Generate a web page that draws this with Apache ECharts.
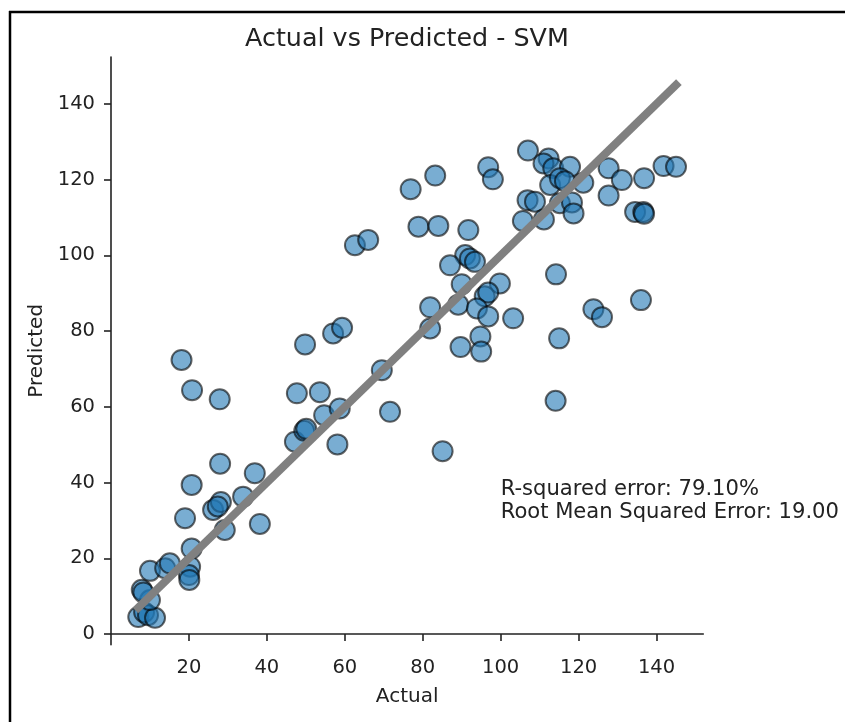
<!DOCTYPE html>
<html>
<head>
<meta charset="utf-8">
<script src="https://cdn.jsdelivr.net/npm/echarts@6/dist/echarts.min.js"></script>
<style>
html,body{margin:0;padding:0;background:#fff;}
#c{width:845px;height:722px;}
</style>
</head>
<body>
<div id="c"></div>
<script>
const titleText = 'Actual vs Predicted - SVM';
const xName = 'Actual';
const yName = 'Predicted';
const actual = [
  7.0, 8.5, 9.5, 11.3, 10.0, 7.9, 8.3, 10.0, 13.9, 15.1,
  20.3, 20.0, 20.1, 20.7, 19.0, 20.7, 29.2, 38.2, 26.2, 28.2,
  27.4, 33.9, 36.9, 28.0, 18.1, 20.8, 27.9, 47.2, 49.6, 50.1,
  54.7, 58.7, 58.1, 47.7, 53.6, 49.8, 57.0, 59.3, 69.5, 71.6,
  85.1, 62.6, 66.0, 76.9, 83.2, 78.9, 84.0, 91.7, 90.9, 92.1,
  93.4, 87.0, 90.0, 99.8, 95.9, 96.8, 81.9, 89.1, 93.9, 96.8,
  103.2, 81.9, 89.7, 94.8, 95.0, 114.2, 115.0, 114.1, 123.8, 126.0,
  136.0, 96.8, 98.0, 107.0, 112.3, 111.0, 113.5, 117.8, 112.7, 115.2,
  116.5, 121.2, 127.7, 131.1, 136.8, 141.8, 145.0, 127.7, 134.5, 136.6,
  136.8, 106.9, 108.8, 105.7, 111.1, 115.2, 118.3, 118.7
];
const predicted = [
  4.5, 5.8, 5.0, 4.3, 9.0, 11.7, 11.0, 16.7, 17.4, 18.7,
  17.8, 15.6, 14.3, 22.6, 30.6, 39.4, 27.5, 29.1, 32.8, 34.9,
  33.7, 36.3, 42.5, 45.0, 72.4, 64.4, 62.0, 50.8, 53.7, 54.2,
  57.8, 59.6, 50.1, 63.6, 63.9, 76.5, 79.4, 80.9, 69.7, 58.7,
  48.3, 102.7, 104.1, 117.5, 121.1, 107.6, 107.8, 106.7, 100.1, 99.2,
  98.3, 97.4, 92.4, 92.6, 89.2, 90.2, 86.3, 87.0, 86.0, 83.9,
  83.4, 80.7, 75.8, 78.6, 74.6, 95.0, 78.1, 61.6, 85.8, 83.7,
  88.2, 123.3, 120.1, 127.7, 125.6, 124.3, 123.0, 123.4, 118.6, 120.4,
  119.6, 119.2, 123.0, 119.9, 120.4, 123.6, 123.4, 115.8, 111.5, 111.5,
  111.0, 114.6, 114.2, 109.1, 109.5, 113.8, 114.0, 111.1
];
const xTicks = [20, 40, 60, 80, 100, 120, 140];
const yTicks = [0, 20, 40, 60, 80, 100, 120, 140];
const xRange = [0, 152];
const yRange = [-2.8, 152.4];
const annotationLines = ['R-squared error: 79.10%', 'Root Mean Squared Error: 19.00'];
const annotationAt = [100, 30];

const FONT = 'DejaVu Sans';
const grid = { left: 111, top: 57, right: 141.7, bottom: 77.3 };

const scatterData = actual.map((a, i) => [a, predicted[i]]);
const lo = Math.min(...actual), hi = Math.max(...actual);
const lineData = [[lo, lo], [hi, hi]];

const TITLE_SIZE = 25.4;

const chart = echarts.init(document.getElementById('c'), null, { renderer: 'canvas' });
const axisCommon = {
  type: 'value',
  splitLine: { show: false },
  axisLine: { show: true, lineStyle: { color: '#222', width: 1.6 } },
  axisTick: { show: true, inside: false, length: 7, lineStyle: { color: '#222', width: 1.6 } },
  axisLabel: { color: '#222', fontFamily: FONT, fontSize: 19.5 },
  nameLocation: 'middle',
  nameTextStyle: { color: '#222', fontFamily: FONT, fontSize: 20 }
};
chart.setOption({
  animation: false,
  backgroundColor: '#fff',
  title: {
    text: titleText,
    left: 240,
    top: 22,
    textStyle: { fontFamily: FONT, fontSize: TITLE_SIZE, fontWeight: 'normal', color: '#222' }
  },
  grid: Object.assign({ outerBoundsMode: 'none', containLabel: false }, grid),
  xAxis: Object.assign({}, axisCommon, {
    min: xRange[0], max: xRange[1],
    name: xName, nameGap: 42,
    axisTick: Object.assign({}, axisCommon.axisTick, { customValues: xTicks }),
    axisLabel: Object.assign({}, axisCommon.axisLabel, { customValues: xTicks, margin: 13 })
  }),
  yAxis: Object.assign({}, axisCommon, {
    min: yRange[0], max: yRange[1],
    name: yName, nameGap: 63,
    axisTick: Object.assign({}, axisCommon.axisTick, { customValues: yTicks }),
    axisLabel: Object.assign({}, axisCommon.axisLabel, { customValues: yTicks, margin: 16 })
  }),
  series: [
    {
      type: 'scatter',
      data: scatterData,
      symbol: 'circle',
      symbolSize: 20,
      itemStyle: { color: '#1f77b4', borderColor: '#000', borderWidth: 2, opacity: 0.6 },
      emphasis: { disabled: true },
      z: 2
    },
    {
      type: 'line',
      data: lineData,
      showSymbol: false,
      symbol: 'none',
      lineStyle: { color: '#808080', width: 8, cap: 'square' },
      emphasis: { disabled: true },
      z: 3
    }
  ]
});

const p = chart.convertToPixel({ gridIndex: 0 }, annotationAt);
chart.setOption({
  graphic: [
    {
      type: 'text',
      x: p[0], y: p[1] + 3,
      style: {
        text: annotationLines.join('\n'),
        font: '21.1px "' + FONT + '"',
        fill: '#222',
        lineHeight: 22.5,
        textAlign: 'left',
        textVerticalAlign: 'bottom'
      },
      z: 10
    },
    { type: 'line', shape: { x1: 9, y1: 12, x2: 845, y2: 12 }, style: { stroke: '#000', lineWidth: 2.5 }, z: 10 },
    { type: 'line', shape: { x1: 10, y1: 11, x2: 10, y2: 722 }, style: { stroke: '#000', lineWidth: 2.5 }, z: 10 }
  ]
});
</script>
</body>
</html>
